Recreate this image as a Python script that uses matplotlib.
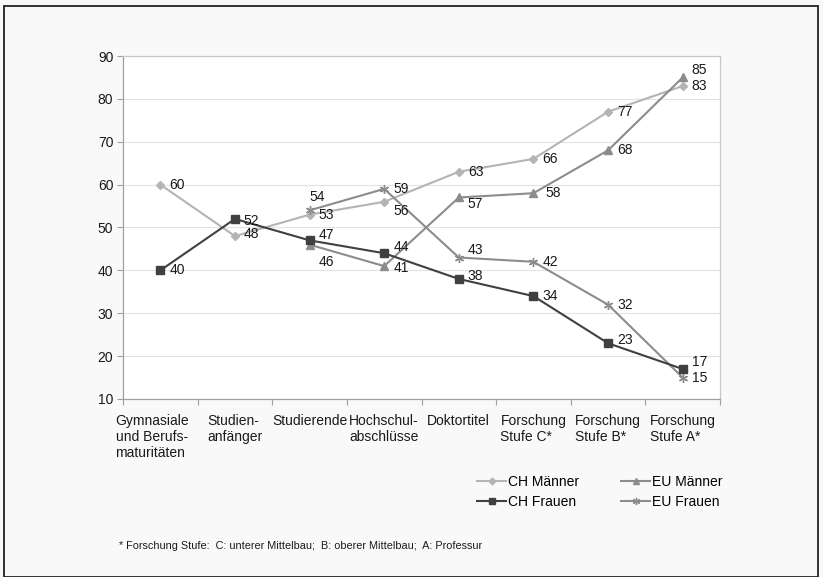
import matplotlib.pyplot as plt
from matplotlib.patches import Rectangle
import numpy as np

# Kategorien und Werte (in %)
kategorien = ["Gymnasiale\nund Berufs-\nmaturitäten", "Studien-\nanfänger", "Studierende",
              "Hochschul-\nabschlüsse", "Doktortitel", "Forschung\nStufe C*",
              "Forschung\nStufe B*", "Forschung\nStufe A*"]
ch_maenner = [60, 48, 53, 56, 63, 66, 77, 83]
ch_frauen = [40, 52, 47, 44, 38, 34, 23, 17]
eu_maenner = [np.nan, np.nan, 46, 41, 57, 58, 68, 85]
eu_frauen = [np.nan, np.nan, 54, 59, 43, 42, 32, 15]

# Versatz der Beschriftungen (Pixel)
off_chm = [(9, 0), (9, 2), (9, 0), (9, -9), (9, 0), (9, 0), (9, 0), (9, 0)]
off_chf = [(9, 0), (9, -2), (9, 5), (9, 6), (9, 3), (9, 0), (9, 3), (9, 7)]
off_eum = [None, None, (9, -17), (9, -2), (9, -7), (12, 0), (9, 0), (9, 7)]
off_euf = [None, None, (0, 13), (9, 0), (9, 8), (9, 0), (9, 0), (9, 0)]

plt.rcParams['font.family'] = ['Liberation Sans', 'DejaVu Sans']

fig = plt.figure(figsize=(8.23, 5.77), dpi=100, facecolor="#f9f9f9")
ax = fig.add_axes([123/823, 1-399/577, (720-123)/823, (399-56)/577])
ax.set_facecolor("white")

x = np.arange(len(kategorien))
serien = [
    ("CH Männer", ch_maenner, "#b4b4b4", "D", 4.2, off_chm),
    ("EU Männer", eu_maenner, "#8c8c8c", "^", 5.5, off_eum),
    ("EU Frauen", eu_frauen, "#8c8c8c", (6, 2, 0), 6.5, off_euf),
    ("CH Frauen", ch_frauen, "#404040", "s", 5.2, off_chf),
]
handles = {}
for name, werte, farbe, marker, ms, offs in serien:
    ln, = ax.plot(x, werte, color=farbe, lw=1.5, marker=marker, markersize=ms,
                  markeredgecolor=farbe, markeredgewidth=1.0, label=name, zorder=3)
    handles[name] = ln
    for xi, v, o in zip(x, werte, offs):
        if o is None or np.isnan(v):
            continue
        ax.annotate(f"{v:.0f}", (xi, v), xytext=o, textcoords="offset pixels",
                    ha="left", va="center", fontsize=10, color="#1a1a1a", zorder=4)

ax.set_xlim(-0.5, 7.5)
ax.set_ylim(10, 90)
ax.set_yticks(range(10, 91, 10))
ax.yaxis.grid(True, color="#e3e3e3", lw=0.8)
ax.set_axisbelow(True)

# Kategorienbeschriftung selbst setzen (linksbündige Zeilen)
ax.set_xticks(np.arange(-0.5, 8, 1))
ax.set_xticklabels([])
ax.tick_params(axis="x", length=4, width=0.8, color="#a0a0a0", direction="out")
for xi, kat in zip(x, kategorien):
    dx = -8 if xi == 0 else 0
    ax.annotate(kat, (xi, 0), xycoords=ax.get_xaxis_transform(), xytext=(dx, -15),
                textcoords="offset pixels", ha="center", va="top", multialignment="left",
                fontsize=10, color="#1a1a1a", annotation_clip=False)

ax.tick_params(axis="y", length=4, width=0.8, color="#a0a0a0", pad=3, labelsize=10, labelcolor="#1a1a1a")

for s in ["left", "bottom"]:
    ax.spines[s].set_color("#a0a0a0")
    ax.spines[s].set_linewidth(0.9)
for s in ["top", "right"]:
    ax.spines[s].set_color("#c8c8c8")
    ax.spines[s].set_linewidth(0.9)

reihenfolge = ["CH Männer", "CH Frauen", "EU Männer", "EU Frauen"]
leg = fig.legend([handles[n] for n in reihenfolge], reihenfolge, ncol=2, frameon=False,
                 loc="center left", bbox_to_anchor=(477/823, 1-492/577), borderpad=0,
                 borderaxespad=0, handlelength=2.1, handletextpad=0.15, columnspacing=3.0,
                 labelspacing=0.45, fontsize=10, markerscale=0.8)

fig.text(119/823, 1-546/577, "* Forschung Stufe:  C: unterer Mittelbau;  B: oberer Mittelbau;  A: Professur",
         fontsize=7.8, ha="left", va="center", color="#1a1a1a")

fig.patches.append(Rectangle((4/823, 0.5/577), 814/823, 571/577, transform=fig.transFigure,
                             fill=False, edgecolor="#222222", lw=1.3))

fig.savefig("out.png", dpi=100, facecolor=fig.get_facecolor())
